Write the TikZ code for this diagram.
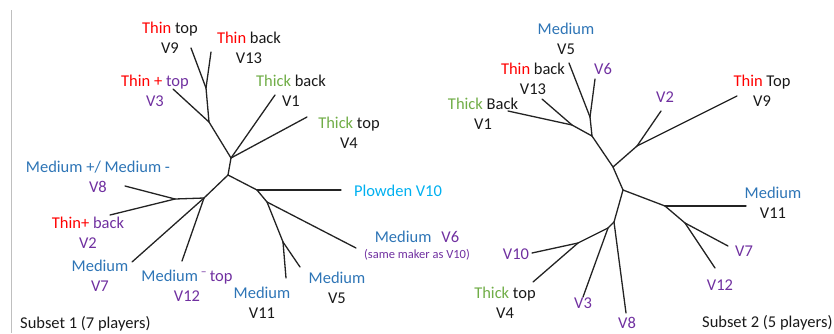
\documentclass[tikz,border=0pt]{standalone}
\usepackage{fontspec}
\setmainfont{Carlito}
\definecolor{cred}{RGB}{255,0,0}
\definecolor{cgreen}{RGB}{112,173,71}
\definecolor{cblue}{RGB}{46,117,182}
\definecolor{cpurple}{RGB}{112,48,160}
\definecolor{ccyan}{RGB}{0,176,240}
\definecolor{cblack}{RGB}{25,25,25}
\definecolor{cline}{RGB}{35,35,35}
\newcommand{\tr}[1]{\textcolor{cred}{#1}}
\newcommand{\tg}[1]{\textcolor{cgreen}{#1}}
\newcommand{\tb}[1]{\textcolor{cblue}{#1}}
\newcommand{\tp}[1]{\textcolor{cpurple}{#1}}
\newcommand{\tc}[1]{\textcolor{ccyan}{#1}}
\begin{document}
\begin{tikzpicture}[x=1pt,y=-1pt,
  branch/.style={draw=cline,line width=1.3pt,line cap=round},
  lbl/.style={inner sep=0pt,align=center,text=cblack,font=\fontsize{16.5}{20.5}\selectfont},
  smalllbl/.style={inner sep=0pt,align=center,text=cpurple,font=\fontsize{12.5}{14}\selectfont},
  frameline/.style={draw=black!25,line width=1pt}]
\useasboundingbox (0,0) rectangle (834,333);
% left frame line
\coordinate (fa) at (11,10);
\coordinate (fb) at (11,333);
\draw[frameline] (fa) -- (fb);

% ---------- Left tree ----------
\coordinate (La) at (206,88);
\coordinate (Lb) at (209,122);
\coordinate (Lc) at (231,158);
\coordinate (Lr) at (228,175);
\coordinate (Ld) at (204,198);
\coordinate (Le) at (175,199);
\coordinate (Lf) at (257,190);
\coordinate (Lg) at (267,202);
\coordinate (Lh) at (283,242);
\coordinate (lV9) at (191,48);
\coordinate (lV13) at (211,52);
\coordinate (lV3) at (173,89);
\coordinate (lV1) at (275,95);
\coordinate (lV4) at (307,117);
\coordinate (lV8) at (125,186);
\coordinate (lV2) at (110,215);
\coordinate (lV7) at (132,262);
\coordinate (lV12) at (182,261);
\coordinate (lV10) at (341,190);
\coordinate (lV6) at (356,248);
\coordinate (lV11) at (286,278);
\coordinate (lV5) at (300,267);
\draw[branch] (lV9) -- (La);
\draw[branch] (lV13) -- (La);
\draw[branch] (La) -- (Lb);
\draw[branch] (lV3) -- (Lb);
\draw[branch] (Lb) -- (Lc);
\draw[branch] (lV1) -- (Lc);
\draw[branch] (lV4) -- (Lc);
\draw[branch] (Lc) -- (Lr);
\draw[branch] (Lr) -- (Ld);
\draw[branch] (Ld) -- (Le);
\draw[branch] (lV8) -- (Le);
\draw[branch] (lV2) -- (Le);
\draw[branch] (Ld) -- (lV7);
\draw[branch] (Ld) -- (lV12);
\draw[branch] (Lr) -- (Lf);
\draw[branch] (Lf) -- (lV10);
\draw[branch] (Lf) -- (Lg);
\draw[branch] (Lg) -- (lV6);
\draw[branch] (Lg) -- (Lh);
\draw[branch] (Lh) -- (lV11);
\draw[branch] (Lh) -- (lV5);

\node[lbl] (tV9) at (170,38) {\tr{Thin} top\\V9};
\node[lbl] (tV13) at (249,48) {\tr{Thin} back\\V13};
\node[lbl] (tV3) at (155,91) {\tr{Thin +} \tp{top}\\\tp{V3}};
\node[lbl] (tV1) at (291,91) {\tg{Thick} back\\V1};
\node[lbl] (tV4) at (349,133) {\tg{Thick} top\\V4};
\node[lbl] (tV8) at (98,177) {\tb{Medium +/ Medium -}\\\tp{V8}};
\node[lbl] (tV2) at (88,233) {\tr{Thin+} \tp{back}\\\tp{V2}};
\node[lbl] (tV7) at (100,276) {\tb{Medium}\\\tp{V7}};
\node[lbl] (tV12) at (187,286) {\tb{Medium}\,\tp{\textsuperscript{--}\,top}\\\tp{V12}};
\node[lbl] (tV11) at (262,303) {\tb{Medium}\\V11};
\node[lbl] (tV5) at (337,288) {\tb{Medium}\\V5};
\node[lbl] (tV10) at (398,191) {\tc{Plowden V10}};
\node[lbl] (tV6) at (417,237) {\tb{Medium}\hspace{0.6em}\tp{V6}};
\node[smalllbl] (tV6b) at (417,255) {(same maker as V10)};
\node[lbl,anchor=base west] (sub1) at (20,328) {Subset 1 (7 players)};

% ---------- Right tree ----------
\coordinate (Ra) at (590,117);
\coordinate (Rb) at (572,125);
\coordinate (Rc) at (592,136);
\coordinate (Rd) at (613,167);
\coordinate (Re) at (637,146);
\coordinate (Rf) at (623,190);
\coordinate (Rg) at (665,206);
\coordinate (Rh) at (685,223);
\coordinate (Ri) at (614,222);
\coordinate (Rj) at (608,228);
\coordinate (Rk) at (578,243);
\coordinate (rV5) at (569,63);
\coordinate (rV6) at (595,79);
\coordinate (rV13) at (542,99);
\coordinate (rV1) at (508,111);
\coordinate (rV2) at (661,111);
\coordinate (rV9) at (737,96);
\coordinate (rV11) at (746,206);
\coordinate (rV7) at (728,246);
\coordinate (rV12) at (715,268);
\coordinate (rV8) at (626,313);
\coordinate (rV3) at (583,297);
\coordinate (rV10) at (532,253);
\coordinate (rV4) at (533,282);
\draw[branch] (rV5) -- (Ra);
\draw[branch] (rV6) -- (Ra);
\draw[branch] (Ra) -- (Rc);
\draw[branch] (rV13) -- (Rb);
\draw[branch] (rV1) -- (Rb);
\draw[branch] (Rb) -- (Rc);
\draw[branch] (Rc) -- (Rd);
\draw[branch] (rV2) -- (Re);
\draw[branch] (rV9) -- (Re);
\draw[branch] (Re) -- (Rd);
\draw[branch] (Rd) -- (Rf);
\draw[branch] (Rf) -- (Rg);
\draw[branch] (Rg) -- (rV11);
\draw[branch] (Rg) -- (Rh);
\draw[branch] (Rh) -- (rV7);
\draw[branch] (Rh) -- (rV12);
\draw[branch] (Rf) -- (Ri);
\draw[branch] (Ri) -- (rV8);
\draw[branch] (Ri) -- (Rj);
\draw[branch] (Rj) -- (rV3);
\draw[branch] (Rj) -- (Rk);
\draw[branch] (Rk) -- (rV10);
\draw[branch] (Rk) -- (rV4);

\node[lbl] (uV5) at (566,39) {\tb{Medium}\\V5};
\node[lbl] (uV13) at (533,79) {\tr{Thin} back\\V13};
\node[lbl] (uV6) at (603,69) {\tp{V6}};
\node[lbl] (uV1) at (483,114) {\tg{Thick} Back\\V1};
\node[lbl] (uV2) at (665,97) {\tp{V2}};
\node[lbl] (uV9) at (762,91) {\tr{Thin} Top\\V9};
\node[lbl] (uV11) at (773,203) {\tb{Medium}\\V11};
\node[lbl] (uV7) at (744,251) {\tp{V7}};
\node[lbl] (uV12) at (720,285) {\tp{V12}};
\node[lbl] (uV10) at (516,254) {\tp{V10}};
\node[lbl] (uV4) at (505,303) {\tg{Thick} top\\V4};
\node[lbl] (uV3) at (583,303) {\tp{V3}};
\node[lbl] (uV8) at (627,323) {\tp{V8}};
\node[lbl,anchor=base west] (sub2) at (702,327) {Subset 2 (5 players)};
\end{tikzpicture}
\end{document}
